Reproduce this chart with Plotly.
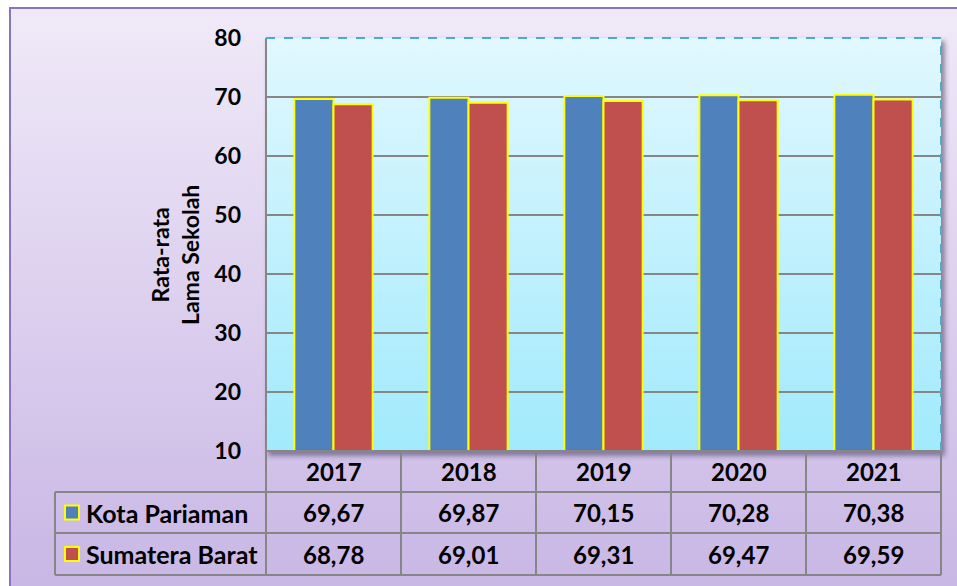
import base64
import plotly.graph_objects as go

years = ["2017", "2018", "2019", "2020", "2021"]
kota_pariaman = [69.67, 69.87, 70.15, 70.28, 70.38]
sumatera_barat = [68.78, 69.01, 69.31, 69.47, 69.59]
series_names = ["Kota Pariaman", "Sumatera Barat"]
y_ticks = [10, 20, 30, 40, 50, 60, 70, 80]

W, H = 957, 586
L, R, T, B = 266, 941, 38, 451
FONT = "Lato"
BLUE, RED = "#4F81BD", "#C0504D"
GRID = "#868686"


def px(x):
    return (x - L) / (R - L)


def py(y):
    return (B - y) / (B - T)


svg = f"""<svg xmlns='http://www.w3.org/2000/svg' width='{W}' height='{H}' viewBox='0 0 {W} {H}'>
<defs>
<linearGradient id='bg' x1='0' y1='0' x2='0' y2='1'>
<stop offset='0' stop-color='#F0EAF8'/><stop offset='1' stop-color='#C7B4E4'/></linearGradient>
<linearGradient id='pa' x1='0' y1='0' x2='0' y2='1'>
<stop offset='0' stop-color='#E1F8FE'/><stop offset='1' stop-color='#A1EAFC'/></linearGradient>
<filter id='sh' x='-5%' y='-5%' width='110%' height='110%'><feGaussianBlur stdDeviation='2.5'/></filter>
</defs>
<rect x='0' y='0' width='{W}' height='{H}' fill='white'/>
<rect x='10' y='8' width='{W+20}' height='{H+20}' fill='url(#bg)' stroke='#8A74BE' stroke-width='2'/>
<rect x='{L+2}' y='{T+3}' width='{R-L+2}' height='{B-T+2}' fill='rgba(70,60,90,0.55)' filter='url(#sh)'/>
<rect x='{L}' y='{T}' width='{R-L}' height='{B-T}' fill='url(#pa)'/>
</svg>"""
src = "data:image/svg+xml;base64," + base64.b64encode(svg.encode()).decode()

fig = go.Figure()
fig.add_trace(go.Bar(x=years, y=kota_pariaman, name=series_names[0], marker=dict(color=BLUE, line=dict(color="#FFFF00", width=2))))
fig.add_trace(go.Bar(x=years, y=sumatera_barat, name=series_names[1], marker=dict(color=RED, line=dict(color="#FFFF00", width=2))))

shapes = []
annotations = []

# plot-area borders
shapes.append(dict(type="line", xref="paper", yref="paper", x0=px(L), x1=px(L), y0=py(T), y1=py(575), line=dict(color=GRID, width=2)))
shapes.append(dict(type="line", xref="paper", yref="paper", x0=px(L), x1=px(R), y0=1, y1=1, line=dict(color="#4BACC6", width=2, dash="dash")))
shapes.append(dict(type="line", xref="paper", yref="paper", x0=1, x1=1, y0=0, y1=1, line=dict(color="#4BACC6", width=2, dash="dash")))

# data table grid
row_edges = [451, 492, 533, 575]
n = len(years)
for i in range(n + 1):
    shapes.append(dict(type="line", xref="paper", yref="paper", x0=i / n, x1=i / n, y0=py(451), y1=py(575), line=dict(color=GRID, width=2)))
shapes.append(dict(type="line", xref="paper", yref="paper", x0=0, x1=1, y0=py(451), y1=py(451), line=dict(color=GRID, width=2)))
for ye in row_edges[1:]:
    shapes.append(dict(type="line", xref="paper", yref="paper", x0=px(55), x1=1, y0=py(ye), y1=py(ye), line=dict(color=GRID, width=2)))
shapes.append(dict(type="line", xref="paper", yref="paper", x0=px(55), x1=px(55), y0=py(492), y1=py(575), line=dict(color=GRID, width=2)))

tf = dict(family=FONT, size=24, color="black")
for i, yr in enumerate(years):
    annotations.append(dict(x=i, xref="x", yref="paper", y=py(471.5), xanchor="center", yanchor="middle", text=f"<b>{yr}</b>", showarrow=False, font=tf))
for row, (vals, ycen) in enumerate([(kota_pariaman, 512.5), (sumatera_barat, 554)]):
    for i, v in enumerate(vals):
        annotations.append(dict(x=i, xref="x", yref="paper", y=py(ycen), xanchor="center", yanchor="middle", text="<b>" + f"{v:.2f}".replace(".", ",") + "</b>", showarrow=False, font=tf))
    annotations.append(dict(x=px(84), xref="paper", xanchor="left", yanchor="middle", yref="paper", y=py(ycen), text=f"<b>{series_names[row]}</b>", showarrow=False, font=dict(family=FONT, size=25, color="black")))
    col = BLUE if row == 0 else RED
    shapes.append(dict(type="rect", xref="paper", yref="paper", x0=px(65), x1=px(79), y0=py(ycen - 7), y1=py(ycen + 7), fillcolor=col, line=dict(color="#FFFF00", width=2)))

# y title
annotations.append(dict(x=px(175), y=py(255), xref="paper", yref="paper", xanchor="center", yanchor="middle", text="<b>Rata-rata<br>Lama Sekolah</b>", textangle=-90, showarrow=False, font=dict(family=FONT, size=23, color="black")))

fig.update_layout(
    width=W, height=H,
    margin=dict(l=L, r=W - R, t=T, b=H - B, pad=0),
    paper_bgcolor="white", plot_bgcolor="rgba(0,0,0,0)",
    barmode="group", bargap=0.42, bargroupgap=0,
    showlegend=False,
    images=[dict(source=src, xref="paper", yref="paper", x=px(0), y=py(0), sizex=W / (R - L), sizey=H / (B - T), xanchor="left", yanchor="top", sizing="stretch", layer="below")],
    shapes=shapes, annotations=annotations,
    font=dict(family=FONT),
)
fig.update_xaxes(type="category", range=[-0.5, len(years) - 0.5], autorange=False, showticklabels=False, showgrid=False, zeroline=False, showline=False, ticks="")
fig.update_yaxes(range=[10, 80], autorange=False, tickvals=y_ticks, ticktext=[f"<b>{t}</b>" for t in y_ticks], showgrid=True, gridcolor=GRID, gridwidth=2, zeroline=False, showline=False, ticks="", ticklabelstandoff=24, tickfont=dict(family=FONT, size=23, color="black"))

fig.write_html("out.html", config={"displayModeBar": False}, post_script="document.body.style.margin='0';document.body.style.overflow='hidden';")
